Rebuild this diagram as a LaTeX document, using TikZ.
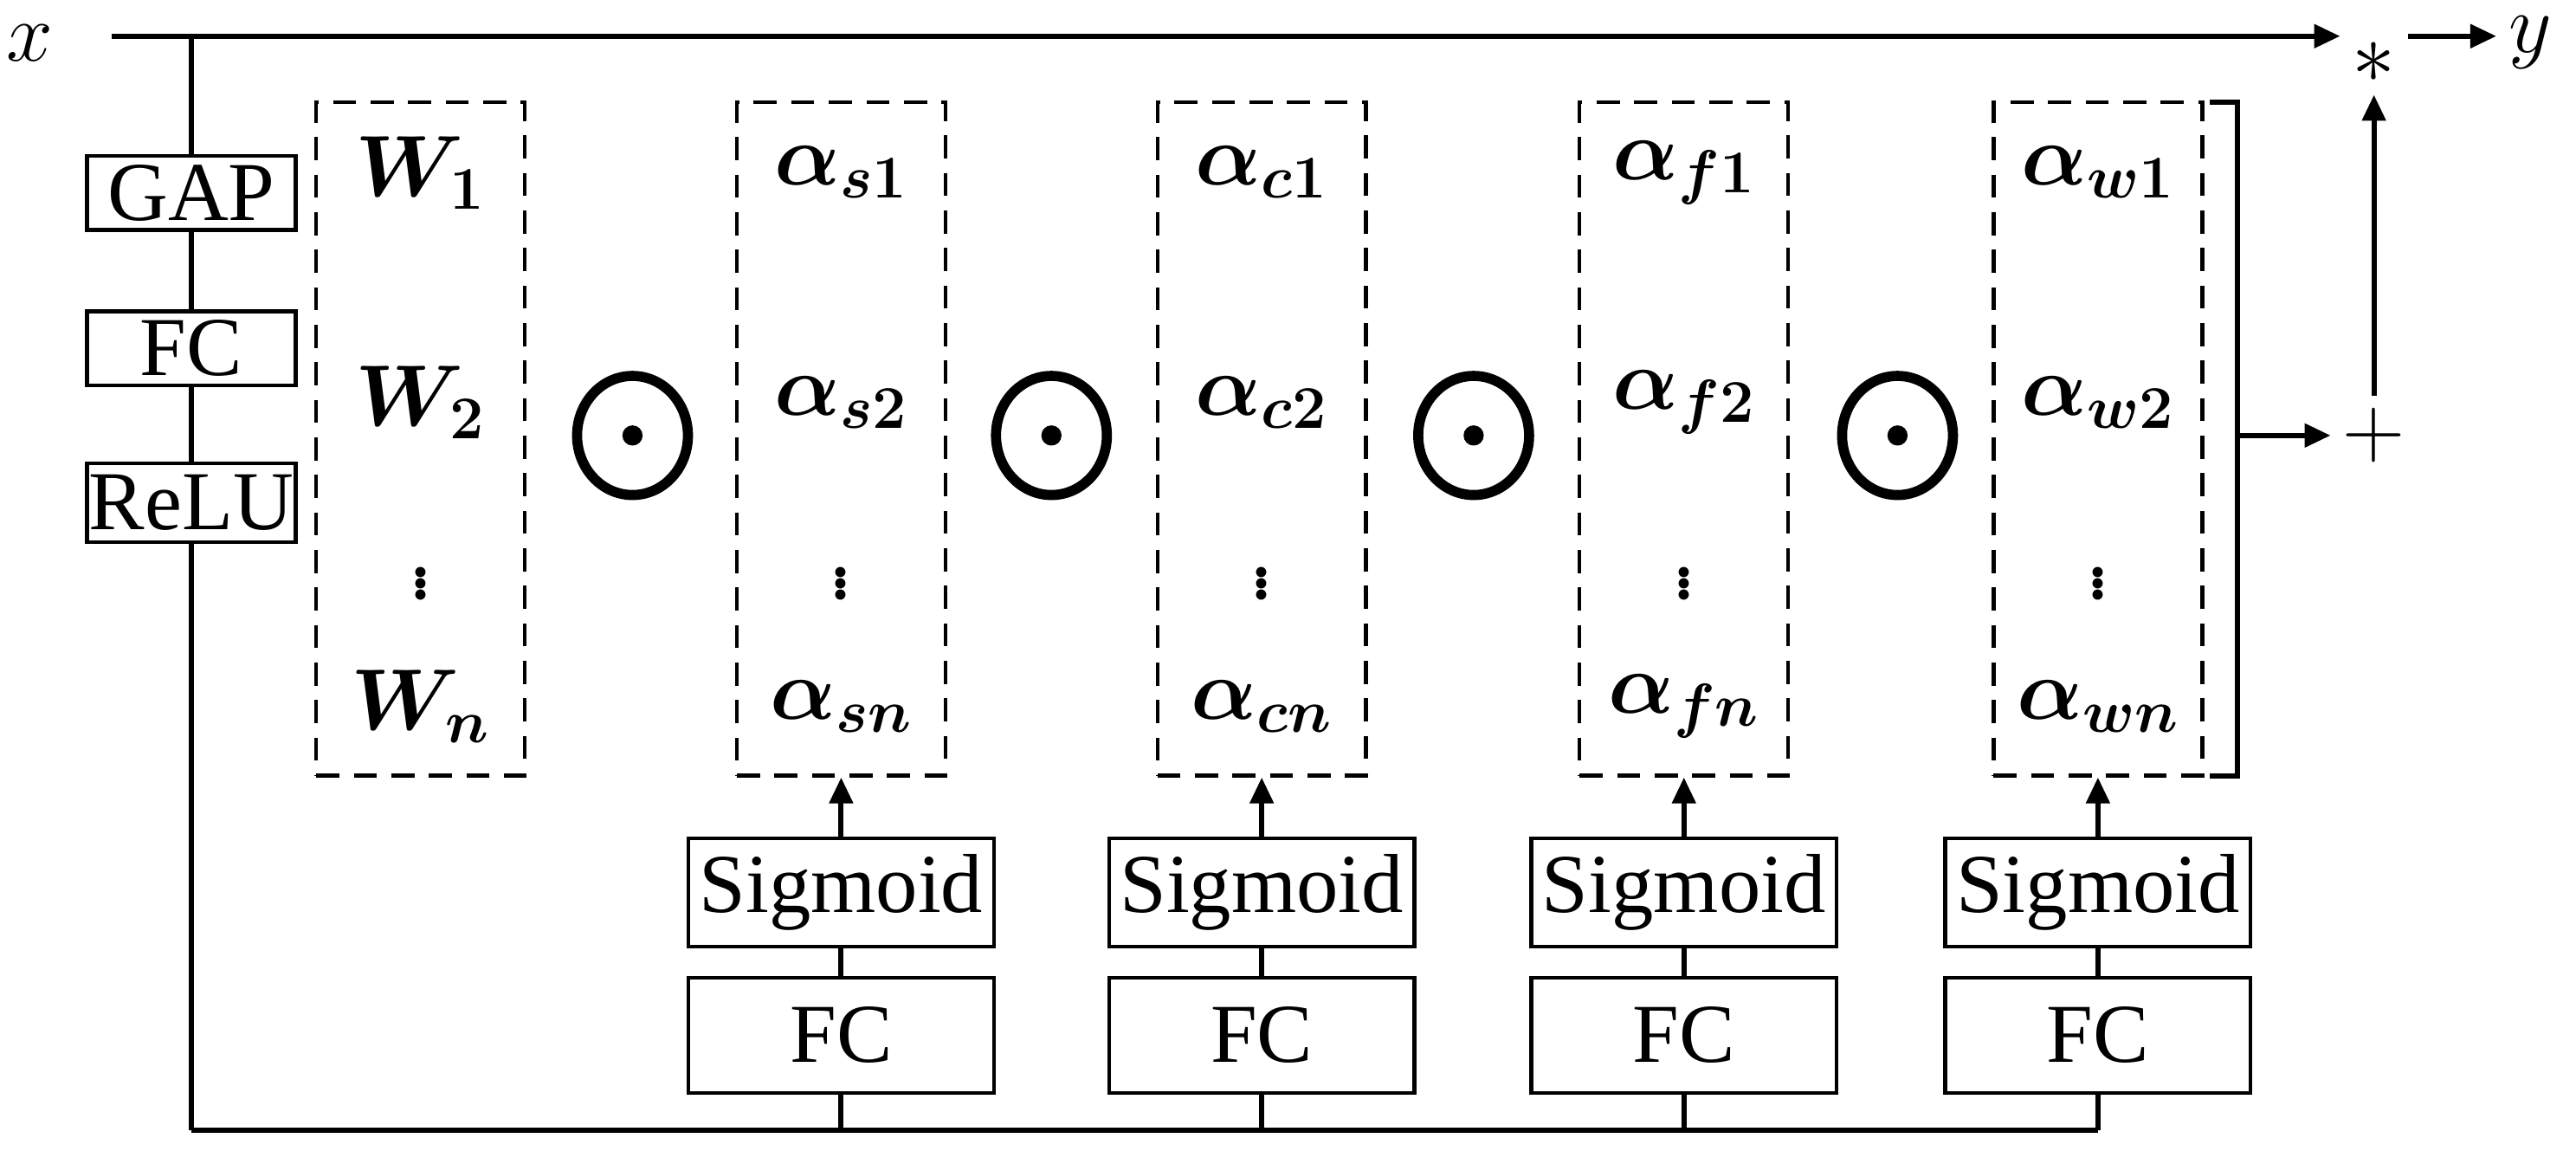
\documentclass[tikz,border=0pt]{standalone}
\usepackage{fix-cm}
\usepackage{bm}
\usepackage{fontspec}
\setmainfont{Liberation Serif}
\usetikzlibrary{arrows.meta,shapes.geometric}
\begin{document}
\begin{tikzpicture}[x=0.02cm,y=-0.02cm,
  line width=1.8pt,
  >={Triangle[length=9pt,width=8pt]},
  box/.style={draw,line width=1.3pt,minimum width=2.54cm,inner sep=0pt,font=\fontsize{29}{30}\selectfont},
  sbox/.style={draw,line width=1.3pt,minimum width=3.72cm,inner sep=0pt,font=\fontsize{29}{30}\selectfont},
  dbox/.style={draw,dashed,dash pattern=on 8pt off 5pt,line width=1.3pt,minimum width=2.54cm,minimum height=8.2cm,inner sep=0pt},
  mt/.style={font=\fontsize{30}{31}\selectfont},
  od/.style={draw,line width=3.5pt,ellipse,minimum width=1.35cm,minimum height=1.45cm,inner sep=0pt,
     path picture={\fill (path picture bounding box.center) circle (3.5pt);}},
  lbl/.style={font=\fontsize{29}{30}\selectfont}]
\useasboundingbox (0,0) rectangle (1568,708);
\node[lbl] (x) at (18,26) {$x$};
\node[lbl] (y) at (1540,26) {$y$};
\node[mt] (star) at (1445,38) {$*$};
\node[mt] (plus) at (1445,265) {$+$};
\coordinate (xs) at (68,22);
\coordinate (br) at (120,22);
\coordinate (bl) at (120,688);
\draw[->] (xs) -- (star.west |- xs);
\draw[->] (star.east |- xs) -- (y.west |- xs);
\node[box,minimum height=0.9cm] (gap) at (116.5,117.5) {GAP};
\node[box,minimum height=0.9cm] (fc0) at (116.5,212) {FC};
\node[box,minimum height=0.96cm] (relu) at (116.5,306) {ReLU};
\draw (gap.north) -- (gap.north |- br);
\draw (gap) -- (fc0) (fc0) -- (relu);
\draw (relu.south) -- (relu.south |- bl);
% dashed boxes
\foreach \n/\cx in {1/256,2/512,3/768,4/1025,5/1277}{
  \node[dbox] (d\n) at (\cx,267) {};
}
\node[mt] at (256,105) {$\bm{W}_{\bm{1}}$};
\node[mt] at (256,245) {$\bm{W}_{\bm{2}}$};
\node[mt] at (256,350) {$\vdots$};
\node[mt] at (256,430) {$\bm{W}_{\bm{n}}$};
\foreach \cx/\s in {512/s,768/c,1025/f,1277/w}{
  \node[mt] at (\cx,105) {$\bm{\alpha}_{\bm{\s 1}}$};
  \node[mt] at (\cx,245) {$\bm{\alpha}_{\bm{\s 2}}$};
  \node[mt] at (\cx,350) {$\vdots$};
  \node[mt] at (\cx,430) {$\bm{\alpha}_{\bm{\s n}}$};
}
\foreach \n/\cx in {1/385,2/640,3/897,4/1155}{
  \node[od] (o\n) at (\cx,265) {};
}
% sigmoid / FC columns
\foreach \n/\cx in {2/512,3/768,4/1025,5/1277}{
  \node[sbox,minimum height=1.32cm] (sg\n) at (\cx,543) {Sigmoid};
  \node[sbox,minimum height=1.4cm] (fc\n) at (\cx,630) {FC};
  \draw (fc\n) -- (sg\n);
  \draw[->] (sg\n) -- (d\n);
  \draw (fc\n.south) -- (fc\n.south |- bl);
}
\draw (relu.south |- bl) -- (fc5.south |- bl);
% bracket
\coordinate (b1) at (1345,62);
\coordinate (b2) at (1362,62);
\coordinate (b3) at (1362,472);
\coordinate (b4) at (1345,472);
\coordinate (bm) at (1362,265);
\draw (b1) -- (b2) -- (b3) -- (b4);
\draw[->] (bm) -- (plus.west);
\draw[->] (plus.north) -- (star.south);
\end{tikzpicture}
\end{document}
